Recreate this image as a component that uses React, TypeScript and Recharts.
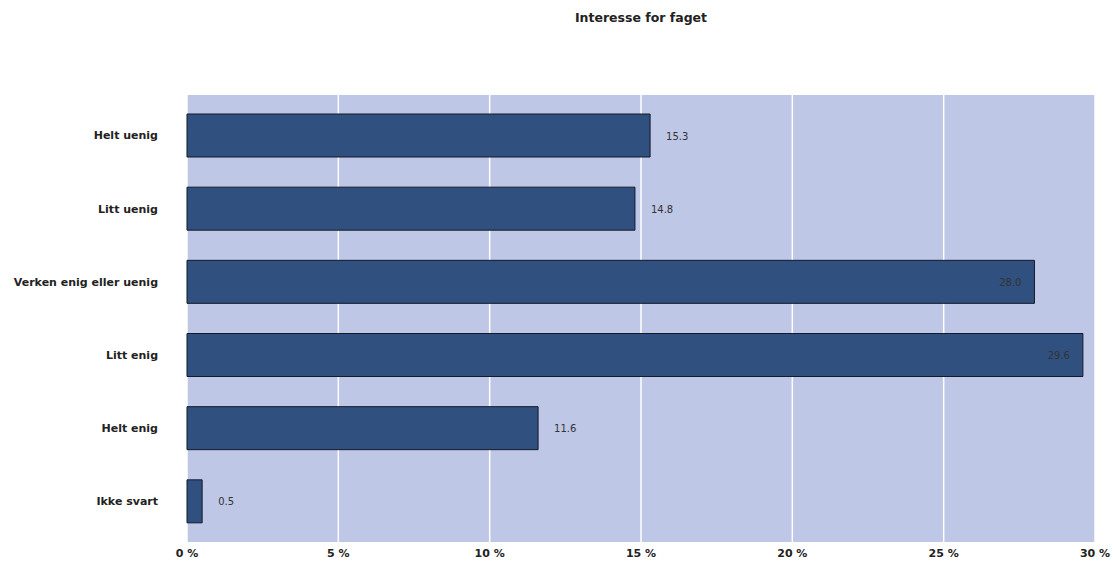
import React from 'react';
import { BarChart, Bar, XAxis, YAxis, CartesianGrid, LabelList } from 'recharts';

const categories = ['Helt uenig', 'Litt uenig', 'Verken enig eller uenig', 'Litt enig', 'Helt enig', 'Ikke svart'];
const values = [15.3, 14.8, 28.0, 29.6, 11.6, 0.5];
const xTicks = [0, 5, 10, 15, 20, 25, 30];
const title = 'Interesse for faget';

const data = categories.map((c, i) => ({ name: c, value: values[i] }));

const FONT = '"DejaVu Sans", Verdana, sans-serif';

const ValueLabel = (props: any) => {
  const { x, y, width, height, value } = props;
  const inside = value > 25;
  const tx = inside ? x + width - 13 : x + width + 16;
  return (
    <text
      x={tx}
      y={y + height / 2}
      dy={4}
      textAnchor={inside ? 'end' : 'start'}
      fontSize={10}
      fontFamily={FONT}
      fill="#333"
    >
      {Number(value).toFixed(1)}
    </text>
  );
};

export default function App() {
  return (
    <div style={{ position: 'absolute', left: 0, top: 0, width: 1113, height: 566, background: '#fff' }}>
      <div
        style={{
          position: 'absolute',
          left: 187,
          width: 908,
          top: 10,
          textAlign: 'center',
          fontFamily: FONT,
          fontWeight: 'bold',
          fontSize: 12.5,
          color: '#222',
        }}
      >
        {title}
      </div>
      <BarChart
        width={1113}
        height={566}
        data={data}
        layout="vertical"
        margin={{ top: 95, right: 18, bottom: 0, left: 0 }}
        barSize={43}
      >
        <CartesianGrid horizontal={false} vertical={true} fill="#BFC7E6" stroke="#ffffff" strokeWidth={1.5} />
        <XAxis
          type="number"
          domain={[0, 30]}
          ticks={xTicks}
          tickFormatter={(v: number) => `${v} %`}
          axisLine={false}
          tickLine={false}
          height={24}
          tick={{ fontSize: 11, fontWeight: 'bold', fontFamily: FONT, fill: '#222' }}
          tickMargin={1}
        />
        <YAxis
          type="category"
          dataKey="name"
          width={187}
          axisLine={false}
          tickLine={false}
          padding={{ top: 4, bottom: 4 }}
          tick={{ fontSize: 11, fontWeight: 'bold', fontFamily: FONT, fill: '#222' }}
          tickMargin={23}
        />
        <Bar dataKey="value" fill="#30507F" stroke="#15192a" strokeWidth={1} isAnimationActive={false}>
          <LabelList dataKey="value" content={ValueLabel} />
        </Bar>
      </BarChart>
    </div>
  );
}
